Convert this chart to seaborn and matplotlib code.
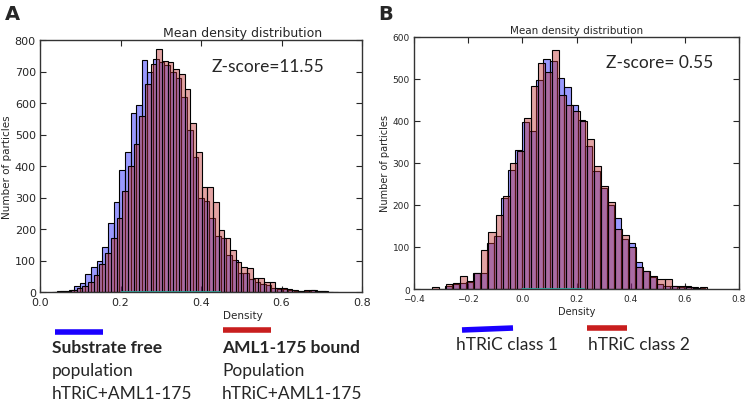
import matplotlib
matplotlib.use('Agg')
import matplotlib.pyplot as plt
from matplotlib.lines import Line2D
import numpy as np
import pandas as pd
import seaborn as sns

# --- panel A : bin layout and counts
a_blue_start, a_blue_width = 0.029, 0.014
a_blue_counts = [1, 2, 3, 6, 19, 30, 56, 80, 100, 144, 218, 287, 387, 445, 569, 593,
                 737, 697, 740, 730, 720, 700, 680, 620, 515, 430, 300, 290, 234, 177,
                 171, 117, 102, 60, 59, 40, 31, 26, 22, 12, 10, 8, 5, 4, 4, 3, 5, 3, 2, 1]
a_red_start, a_red_width = 0.035, 0.0141
a_red_counts = [1, 2, 4, 7, 12, 20, 33, 55, 90, 125, 170, 235, 320, 400, 470, 560,
                660, 724, 773, 734, 729, 708, 692, 644, 538, 446, 332, 332, 285, 196,
                170, 133, 94, 78, 75, 44, 44, 31, 31, 12, 12, 10, 5, 3, 6, 5, 2, 2, 1, 1]
a_green_span = [0.2, 0.45]

# --- panel B
b_blue_start, b_blue_width = -0.287, 0.026
b_blue_counts = [8, 12, 14, 16, 37, 37, 109, 126, 216, 283, 330, 398, 377, 497, 547,
                 543, 503, 482, 437, 402, 340, 280, 240, 200, 170, 120, 110, 65, 44,
                 28, 12, 8, 6, 4, 6, 4, 2]
b_red_start, b_red_width = -0.333, 0.026
b_red_counts = [5, 0, 11, 15, 30, 20, 37, 93, 136, 177, 222, 299, 329, 407, 484, 537,
                517, 569, 461, 437, 424, 400, 357, 293, 246, 206, 144, 129, 99, 52, 43,
                32, 25, 25, 8, 6, 4, 2, 4]
b_green_span = [0.0, 0.23]

blue = (0.0, 0.0, 1.0)
red = (0.75, 0.2, 0.2)

sns.set_style('ticks', {'xtick.direction': 'in', 'ytick.direction': 'in'})
plt.rcParams['font.family'] = ['DejaVu Sans']
plt.rcParams['axes.linewidth'] = 1.0


def draw_hist(ax, start, width, counts, color, alpha):
    edges = start + width * np.arange(len(counts) + 1)
    df = pd.DataFrame({'x': (edges[:-1] + edges[1:]) / 2, 'n': counts})
    sns.histplot(data=df, x='x', weights='n', bins=list(edges), color=color, alpha=alpha,
                 edgecolor='black', linewidth=0.8, ax=ax)


def style_axes(ax, xlim, ylim, fs, tfs, lfs, cx):
    ax.set_xlim(*xlim)
    ax.set_ylim(*ylim)
    ax.set_title('Mean density distribution', fontsize=tfs, pad=3, x=cx)
    ax.set_xlabel('Density', fontsize=lfs, labelpad=2, x=cx)
    ax.set_ylabel('Number of particles', fontsize=lfs, labelpad=2)
    ax.tick_params(which='both', top=True, right=True, direction='in',
                   labelsize=fs, length=4, width=0.8)
    ax.tick_params(axis='x', pad=3.5)
    ax.tick_params(axis='y', pad=3)
    for s in ax.spines.values():
        s.set_visible(True)
        s.set_color('#333333')


fig = plt.figure(figsize=(7.47, 4.02), dpi=100)

# panel A
axA = fig.add_axes([40 / 747, 1 - 293 / 402, 322 / 747, 252 / 402])
draw_hist(axA, a_blue_start, a_blue_width, a_blue_counts, blue, 0.4)
draw_hist(axA, a_red_start, a_red_width, a_red_counts, red, 0.45)
axA.hlines(0, *a_green_span, color='#2aa198', lw=1.2, zorder=5)
style_axes(axA, (0.0, 0.8), (0, 800), 8, 9, 7.5, 0.63)
axA.set_xticks(np.arange(0, 0.81, 0.2))
axA.set_yticks(np.arange(0, 801, 100))
axA.text(0.534, 0.897, 'Z-score=11.55', transform=axA.transAxes, fontsize=12.5,
         family=['Lato', 'DejaVu Sans'], va='center')

# panel B
axB = fig.add_axes([414 / 747, 1 - 290 / 402, 325 / 747, 252 / 402])
draw_hist(axB, b_blue_start, b_blue_width, b_blue_counts, blue, 0.4)
draw_hist(axB, b_red_start, b_red_width, b_red_counts, red, 0.45)
axB.hlines(0, *b_green_span, color='#2aa198', lw=1.2, zorder=5)
style_axes(axB, (-0.4, 0.8), (0, 600), 6.5, 7.5, 7, 0.5)
axB.set_xticks(np.arange(-0.4, 0.81, 0.2))
axB.set_yticks(np.arange(0, 601, 100))
axB.text(0.59, 0.9, 'Z-score= 0.55', transform=axB.transAxes, fontsize=12.5,
         family=['Lato', 'DejaVu Sans'], va='center')

# panel letters
fig.text(5 / 747, 1 - 14 / 402, 'A', fontsize=14, fontweight='bold', va='center')
fig.text(378 / 747, 1 - 14 / 402, 'B', fontsize=14, fontweight='bold', va='center')


# legend bars and captions under the panels
def fx(px):
    return px / 747


def fy(py):
    return 1 - py / 402


bar = dict(lw=4, solid_capstyle='butt')
fig.add_artist(Line2D([fx(55), fx(103)], [fy(333), fy(333)], color='#1a00ff', **bar))
fig.add_artist(Line2D([fx(223), fx(271)], [fy(331), fy(331)], color='#c81e1e', **bar))
fig.add_artist(Line2D([fx(462), fx(513)], [fy(331), fy(329)], color='#1a00ff', **bar))
fig.add_artist(Line2D([fx(587), fx(627)], [fy(329), fy(329)], color='#c81e1e', **bar))

cap = dict(fontsize=12.5, family=['Lato', 'DejaVu Sans'], va='center')
fig.text(fx(52), fy(348), 'Substrate free', fontweight='bold', **cap)
fig.text(fx(52), fy(371), 'population', **cap)
fig.text(fx(52), fy(394), 'hTRiC+AML1-175', **cap)
fig.text(fx(222), fy(348), 'AML1-175 bound', fontweight='bold', **cap)
fig.text(fx(222), fy(371), 'Population', **cap)
fig.text(fx(222), fy(394), 'hTRiC+AML1-175', **cap)
fig.text(fx(456), fy(345), 'hTRiC class 1', **cap)
fig.text(fx(588), fy(345), 'hTRiC class 2', **cap)

fig.savefig('out.png', dpi=100)
